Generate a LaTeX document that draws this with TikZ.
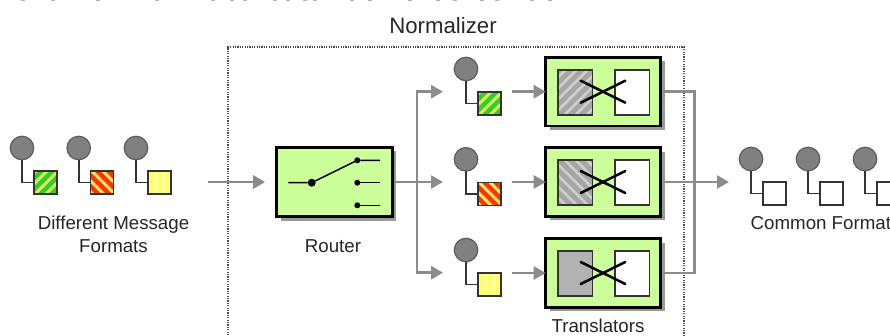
\documentclass[tikz,border=0pt]{standalone}
\usepackage{fontspec}
\setmainfont{Liberation Sans}
\usetikzlibrary{arrows.meta,shadows}
\definecolor{boxgreen}{HTML}{CCFF99}
\definecolor{flow}{HTML}{8C8C8C}
\definecolor{shade}{HTML}{999999}
\definecolor{ball}{HTML}{808080}
\definecolor{ink}{HTML}{333333}
\definecolor{msgreen}{HTML}{33CC33}
\definecolor{msred}{HTML}{FF3300}
\definecolor{msyellow}{HTML}{FFFF99}
\definecolor{stripeg}{HTML}{D8F050}
\definecolor{striper}{HTML}{FFE866}
\definecolor{stripey}{HTML}{FFFF66}
\definecolor{hatchbg}{HTML}{A6A6A6}
\definecolor{hatchfg}{HTML}{CFCFCF}
\newcommand{\stripepic}[3]{% colour, direction, width
  \foreach \k in {-32,-21,-10,1,12,23,34}{
    \draw[#1,line width=#3,line cap=butt]
      ([shift={(\k-24,#2*24)}]path picture bounding box.center) --
      ([shift={(\k+24,-#2*24)}]path picture bounding box.center);
  }}
\tikzset{
  x=1pt,y=-1pt,
  ballnode/.style={circle,draw=ink!80,line width=1.2pt,fill=ball,minimum size=23.5pt,inner sep=0pt,outer sep=0pt},
  sq/.style={rectangle,draw=ink,line width=1.5pt,minimum size=23pt,inner sep=0pt,outer sep=0pt},
  sqgreen/.style={sq,fill=msgreen,path picture={\stripepic{stripeg}{1}{3pt}}},
  sqred/.style={sq,fill=msred,path picture={\stripepic{striper}{-1}{3pt}}},
  sqyellow/.style={sq,fill=msyellow,path picture={
    \foreach \k in {-8,0,8}{\draw[stripey,line width=2.5pt]
      ([shift={(\k,-14)}]path picture bounding box.center) -- ([shift={(\k,14)}]path picture bounding box.center);}}},
  sqwhite/.style={sq,fill=white},
  tie/.style={draw=ink,line width=1.6pt},
  mainbox/.style={rectangle,draw=black,line width=2.8pt,fill=boxgreen,inner sep=0pt,outer sep=0pt,
    general shadow={fill=shade,shadow xshift=4pt,shadow yshift=-4pt}},
  flowline/.style={draw=flow,line width=2.8pt},
  flowarrow/.style={flowline,-{Triangle[length=12pt,width=13pt]}},
  inbox/.style={rectangle,draw=ink,line width=1.5pt,minimum width=34.5pt,minimum height=45pt,inner sep=0pt,outer sep=0pt},
  hatchA/.style={inbox,fill=hatchbg,path picture={\stripepic{hatchfg}{1}{2.6pt}}},
  hatchB/.style={inbox,fill=hatchbg,path picture={\stripepic{hatchfg}{-1}{2.6pt}}},
  solidin/.style={inbox,fill=black!30},
  outbox/.style={inbox,fill=white},
  crossline/.style={draw=black,line width=2.5pt,line cap=round},
  lab/.style={font=\fontsize{18.7}{21}\selectfont,text=black!85,inner sep=0pt,align=center},
  dotnode/.style={circle,fill=black,inner sep=0pt,outer sep=0pt},
  swline/.style={draw=black,line width=1.5pt},
}
\newcommand{\msg}[4]{% name, ball x, ball y, style
  \node[ballnode] (#1b) at (#2,#3) {};
  \node[#4] (#1s) at ({#2+23.5},{#3+34.5}) {};
  \draw[tie] (#1b.south) |- (#1s.west);
}
\newcommand{\translator}[3]{% name, y centre, left style
  \node[mainbox,minimum width=115pt,minimum height=68.6pt] (#1) at (603.2,#2) {};
  \node[#3] (#1i) at (575.2,#2+0.6) {};
  \node[outbox] (#1o) at (632.2,#2+0.6) {};
  \coordinate (#1xa) at (580.7,#2-11);
  \coordinate (#1xb) at (625.3,#2+11);
  \coordinate (#1xc) at (580.7,#2+11);
  \coordinate (#1xd) at (625.3,#2-11);
  \draw[crossline] (#1xa) -- (#1xb);
  \draw[crossline] (#1xc) -- (#1xd);
}
\begin{document}
\begin{tikzpicture}
\useasboundingbox (0,0) rectangle (890,335);
\begin{scope}
\clip (0,0) rectangle (890,335);
% remnants of a cropped text line at the top edge
\foreach \p in {23,53,98,157,213,232,245,275,288,305,315,352,370,410,438,455,482,497,532,550}
  \fill[black!30] (\p-2,0) rectangle (\p+2,1.2);
% Normalizer boundary
\coordinate (nTL) at (228,47);
\coordinate (nTR) at (684,47);
\coordinate (nBL) at (228,340);
\coordinate (nBR) at (684,340);
\draw[black!70,line width=1.2pt,dash pattern=on 1.2pt off 1.2pt] (nBL) -- (nTL) -- (nTR) -- (nBR);
\node[lab,font=\fontsize{22.2}{24}\selectfont] (normlab) at (443,26) {Normalizer};

% left messages
\msg{a}{22}{148}{sqgreen}
\msg{b}{78.7}{148}{sqred}
\msg{c}{136}{148}{sqyellow}
\node[lab] (diff) at (113.5,234.5) {Different Message\\[1.5pt]Formats};

% router
\node[mainbox,minimum width=115.6pt,minimum height=69.4pt] (router) at (334.5,182) {};
\node[lab] (routerlab) at (333,246.5) {Router};
\coordinate (swa) at (288.3,182.7);
\node[dotnode,minimum size=8pt] (swp) at (311.7,182.7) {};
\node[dotnode,minimum size=6pt] (sw1) at (357.3,160.3) {};
\node[dotnode,minimum size=6pt] (sw2) at (357.3,182.7) {};
\node[dotnode,minimum size=6pt] (sw3) at (357.3,205.3) {};
\coordinate (sw1e) at (380,160.3);
\coordinate (sw2e) at (380,182.7);
\coordinate (sw3e) at (380,205.3);
\draw[swline] (swa) -- (swp) -- (sw1) -- (sw1e);
\draw[swline] (sw2) -- (sw2e);
\draw[swline] (sw3) -- (sw3e);

% incoming flow
\coordinate (inflow) at (208,182);
\draw[flowarrow,shorten >=11.5pt] (inflow) -- (router.west);

% router outgoing
\coordinate (rtop) at (443,91.7);
\coordinate (rmid) at (443,182);
\coordinate (rbot) at (443,272.7);
\coordinate (rfork) at (417,182);
\draw[flowarrow,shorten <=2pt] (router.east) -- (rmid);
\draw[flowarrow] (rfork) |- (rtop);
\draw[flowarrow] (rfork) |- (rbot);

% middle messages
\msg{m}{466}{69}{sqgreen}
\msg{n}{466}{159.3}{sqred}
\msg{o}{466}{250}{sqyellow}

% translators
\translator{t}{91.7}{hatchA}
\translator{u}{182}{hatchB}
\translator{v}{273}{solidin}
\node[lab] (translab) at (598,326) {Translators};

\coordinate (ma) at (511.7,91.7);
\coordinate (mb) at (511.7,182);
\coordinate (mc) at (511.7,273);
\draw[flowarrow] (ma) -- (t.west);
\draw[flowarrow] (mb) -- (u.west);
\draw[flowarrow] (mc) -- (v.west);

% translators outgoing
\coordinate (merge) at (694.3,182);
\coordinate (outtip) at (729,182);
\draw[flowline,shorten <=2pt] (t.east) -| (merge);
\draw[flowline,shorten <=2pt] (v.east) -| (merge);
\draw[flowarrow,shorten <=2pt] (u.east) -- (outtip);

% right messages
\msg{x}{751}{159}{sqwhite}
\msg{y}{808}{159}{sqwhite}
\msg{z}{865}{159}{sqwhite}
\node[lab,anchor=west] (common) at (750.5,223.5) {Common Format};
\end{scope}
\end{tikzpicture}
\end{document}
